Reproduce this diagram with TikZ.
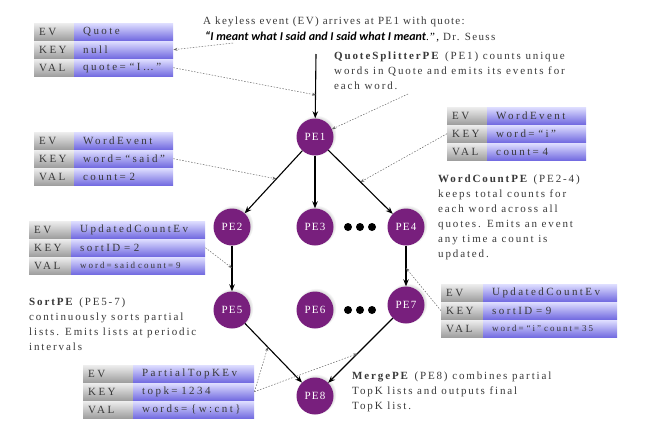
\documentclass[tikz,border=0pt]{standalone}
\usepackage{fontspec}
\setmainfont[LetterSpace=12]{Liberation Serif}
\newfontfamily\descfont[LetterSpace=17]{Liberation Serif}
\newfontfamily\cellfont[LetterSpace=22]{Liberation Serif}
\newfontfamily\quotefont{Carlito}
\usetikzlibrary{arrows.meta,shadows}

\newlength{\du}
\setlength{\du}{1pt}

\definecolor{pecolor}{rgb}{0.470000, 0.120000, 0.490000}
\definecolor{txtcolor}{rgb}{0.220000, 0.220000, 0.220000}
\definecolor{lbltop}{rgb}{0.930000, 0.930000, 0.930000}
\definecolor{lblbot}{rgb}{0.620000, 0.620000, 0.620000}
\definecolor{valtop}{rgb}{0.870000, 0.870000, 1.000000}
\definecolor{valbot}{rgb}{0.450000, 0.420000, 0.880000}
\definecolor{notecolor}{rgb}{0.400000, 0.400000, 0.400000}

\tikzset{
  pe/.style={circle, fill=pecolor, text=white, minimum size=37\du, inner sep=0pt,
    font=\fontsize{11}{13}\selectfont,
    circular drop shadow={opacity=0.25, shadow xshift=1\du, shadow yshift=1.5\du}},
  flow/.style={-{Stealth[length=7pt,width=5.5pt]}, line width=1.1\du, black},
  note/.style={-{Stealth[length=4pt,width=3pt]}, notecolor, line width=0.5\du,
    dash pattern=on 1.5\du off 1.5\du},
  lblcell/.style={anchor=north west, minimum height=17\du, inner xsep=5\du, inner ysep=0pt,
    text width=30\du, top color=lbltop, bottom color=lblbot, text=txtcolor,
    font=\cellfont\fontsize{11}{13}\selectfont},
  valcell/.style={anchor=north west, minimum height=17\du, inner xsep=9\du, inner ysep=0pt,
    text width=81\du, top color=valtop, bottom color=valbot, text=txtcolor,
    font=\cellfont\fontsize{11}{13}\selectfont},
  dsc/.style={anchor=north west, align=left, inner sep=0pt, text=txtcolor,
    font=\descfont\fontsize{11}{15}\selectfont},
  dotmark/.style={circle, fill=black, minimum size=8\du, inner sep=0pt}
}

\begin{document}
\begin{tikzpicture}
\pgftransformxscale{1.000000}
\pgftransformyscale{-1.000000}
\useasboundingbox (0\du,0\du) rectangle (645\du,429\du);

\node[pe] (pe1) at (315\du,137\du){PE1};
\node[pe] (pe2) at (232\du,227\du){PE2};
\node[pe] (pe3) at (315\du,227\du){PE3};
\node[pe] (pe4) at (406\du,227\du){PE4};
\node[pe] (pe5) at (232\du,310\du){PE5};
\node[pe] (pe6) at (315\du,310\du){PE6};
\node[pe] (pe7) at (406\du,305\du){PE7};
\node[pe] (pe8) at (315\du,396\du){PE8};

\node[dotmark] (dota1) at (348\du,227\du){};
\node[dotmark] (dota2) at (360\du,227\du){};
\node[dotmark] (dota3) at (372\du,227\du){};
\node[dotmark] (dotb1) at (348\du,310\du){};
\node[dotmark] (dotb2) at (360\du,310\du){};
\node[dotmark] (dotb3) at (372\du,310\du){};

\coordinate (src) at (316\du,54\du);
\draw[flow] (src)--(pe1);
\draw[flow] (pe1)--(pe2);
\draw[flow] (pe1)--(pe3);
\draw[flow] (pe1)--(pe4);
\draw[flow] (pe2)--(pe5);
\draw[flow] (pe4)--(pe7);
\draw[flow] (pe5)--(pe8);
\draw[flow] (pe7)--(pe8);

\node[lblcell] (t1ev) at (34\du,23\du){EV};
\node[valcell] (t1evv) at (74\du,23\du){Quote};
\node[lblcell] (t1key) at (34\du,41\du){KEY};
\node[valcell] (t1keyv) at (74\du,41\du){null};
\node[lblcell] (t1val) at (34\du,59\du){VAL};
\node[valcell] (t1valv) at (74\du,59\du){quote= “I…”};

\node[lblcell] (t2ev) at (34\du,132\du){EV};
\node[valcell] (t2evv) at (74\du,132\du){WordEvent};
\node[lblcell] (t2key) at (34\du,150\du){KEY};
\node[valcell] (t2keyv) at (74\du,150\du){word= “said”};
\node[lblcell] (t2val) at (34\du,168\du){VAL};
\node[valcell] (t2valv) at (74\du,168\du){count= 2};

\node[lblcell, text width=32\du] (t3ev) at (29\du,221\du){EV};
\node[valcell, text width=116\du] (t3evv) at (71\du,221\du){UpdatedCountEv};
\node[lblcell, text width=32\du] (t3key) at (29\du,239\du){KEY};
\node[valcell, text width=116\du] (t3keyv) at (71\du,239\du){sortID = 2};
\node[lblcell, text width=32\du] (t3val) at (29\du,257\du){VAL};
\node[valcell, text width=116\du, font=\cellfont\fontsize{9}{11}\selectfont] (t3valv) at (71\du,257\du){word= said count= 9};

\node[lblcell] (t4ev) at (447\du,107\du){EV};
\node[valcell] (t4evv) at (487\du,107\du){WordEvent};
\node[lblcell] (t4key) at (447\du,125\du){KEY};
\node[valcell] (t4keyv) at (487\du,125\du){word= “i”};
\node[lblcell] (t4val) at (447\du,143\du){VAL};
\node[valcell] (t4valv) at (487\du,143\du){count= 4};

\node[lblcell, text width=32\du] (t5ev) at (441\du,284\du){EV};
\node[valcell, text width=116\du] (t5evv) at (483\du,284\du){UpdatedCountEv};
\node[lblcell, text width=32\du] (t5key) at (441\du,302\du){KEY};
\node[valcell, text width=116\du] (t5keyv) at (483\du,302\du){sortID = 9};
\node[lblcell, text width=32\du] (t5val) at (441\du,320\du){VAL};
\node[valcell, text width=116\du, font=\cellfont\fontsize{9}{11}\selectfont] (t5valv) at (483\du,320\du){word= “i” count= 35};

\node[lblcell, text width=40\du] (t6ev) at (83\du,365\du){EV};
\node[valcell, text width=103\du] (t6evv) at (133\du,365\du){PartialTopKEv};
\node[lblcell, text width=40\du] (t6key) at (83\du,383\du){KEY};
\node[valcell, text width=103\du] (t6keyv) at (133\du,383\du){topk= 1234};
\node[lblcell, text width=40\du] (t6val) at (83\du,401\du){VAL};
\node[valcell, text width=103\du] (t6valv) at (133\du,401\du){words= \{w:cnt\}};

\node[anchor=west, inner sep=0pt, text=txtcolor, font=\fontsize{11}{13}\selectfont] (intro) at (203\du,22\du){A keyless event (EV) arrives at PE1 with quote:};
\node[anchor=west, inner sep=0pt, text=black, font=\fontsize{11}{13}\selectfont] (quote) at (205\du,37\du){{\quotefont\fontsize{12}{14}\selectfont\bfseries\itshape “I meant what I said and I said what I meant}.”, {\color{txtcolor}Dr. Seuss}};
\node[dsc] (qsplit) at (334\du,52\du){\textbf{QuoteSplitterPE} (PE1) counts unique\\words in Quote and emits its events for\\each word.};
\node[dsc] (wcount) at (438\du,175\du){\textbf{WordCountPE} (PE2-4)\\keeps total counts for\\each word across all\\quotes. Emits an event\\any time a count is\\updated.};
\node[dsc] (sortpe) at (29\du,298\du){\textbf{SortPE} (PE5-7)\\continuously sorts partial\\lists. Emits lists at periodic\\intervals};
\node[dsc] (mergepe) at (352\du,372\du){\textbf{MergePE} (PE8) combines partial\\TopK lists and outputs final\\TopK list.};

\coordinate (qsrc) at (233\du,43\du);
\coordinate (m01) at (316\du,95\du);
\coordinate (qssrc) at (408\du,94\du);
\path (pe1)--(pe2) coordinate[pos=0.45] (m12);
\path (pe1)--(pe4) coordinate[pos=0.5] (m14);
\path (pe2)--(pe5) coordinate[pos=0.49] (m25);
\path (pe4)--(pe7) coordinate[pos=0.55] (m47);
\path (pe5)--(pe8) coordinate[pos=0.4] (m58);
\path (pe7)--(pe8) coordinate[pos=0.55] (m78);

\draw[note] (qsrc)--(t1keyv.east);
\draw[note] (t1valv.east)--(m01);
\draw[note] (qssrc)--(pe1);
\draw[note] (t2keyv.east)--(m12);
\draw[note] (t4key.west)--(m14);
\draw[note] (t3keyv.east)--(m25);
\draw[note] (t5key.west)--(m47);
\draw[note] (t6keyv.east)--(m58);
\draw[note] (t6keyv.east)--(m78);
\end{tikzpicture}
\end{document}
